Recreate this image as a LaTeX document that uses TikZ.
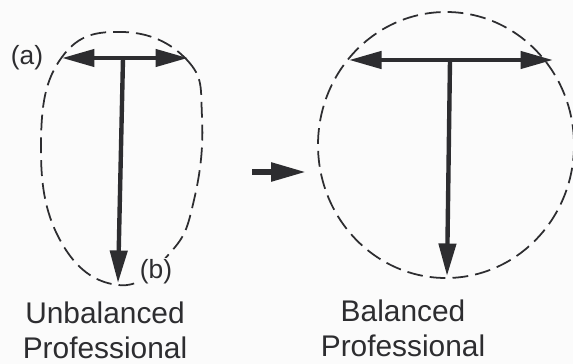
\documentclass[tikz,border=0pt]{standalone}
\usepackage{fontspec}
\setmainfont{Liberation Sans}
\usetikzlibrary{arrows.meta}
\definecolor{ink}{RGB}{45,45,48}
\definecolor{paper}{RGB}{251,251,251}

\begin{document}
\begin{tikzpicture}[
  x=0.02cm, y=-0.02cm,
  outline/.style={draw=ink, line width=1pt, dash pattern=on 9pt off 4pt},
  force/.style={draw=ink, line width=2.5pt, -{Triangle[length=6.5mm,width=3.4mm]}},
  twoway/.style={draw=ink, line width=2.5pt, {Triangle[length=6.5mm,width=3.4mm]}-{Triangle[length=6.5mm,width=3.4mm]}},
  change/.style={draw=ink, line width=3.2pt, -{Triangle[length=7mm,width=3.6mm]}},
  caption/.style={font=\fontsize{17}{20}\selectfont, text=ink, align=center},
  tag/.style={font=\fontsize{15}{18}\selectfont, text=ink, fill=paper, inner sep=1pt}
]
\fill[paper] (0,0) rectangle (573,364);
\useasboundingbox (0,0) rectangle (573,364);

% unbalanced: egg shaped outline
\draw[outline] plot[smooth cycle, tension=0.75] coordinates {(123,32) (187,60) (202,117) (194,200) (170,253) (118,285) (60,240) (41,143) (62,57)};
\coordinate (ual) at (62,58);
\coordinate (uar) at (188,58);
\coordinate (uat) at (123,58);
\coordinate (uab) at (118,283);
\draw[twoway] (ual) -- (uar);
\draw[force] (uat) -- (uab);
\node[tag] (a) at (27,58) {(a)};
\node[tag] (b) at (156,272) {(b)};

% balanced: round outline
\draw[outline] (446,145) ellipse [x radius=128, y radius=133];
\coordinate (bal) at (349,60);
\coordinate (bar) at (553,60);
\coordinate (bat) at (450,60);
\coordinate (bab) at (447,276);
\draw[twoway] (bal) -- (bar);
\draw[force] (bat) -- (bab);

% change
\coordinate (from) at (252,172);
\coordinate (to) at (306,172);
\draw[change] (from) -- (to);

\node[caption] (ul) at (105,330) {Unbalanced\\Professional};
\node[caption] (bl) at (403,328) {Balanced\\Professional};
\end{tikzpicture}
\end{document}
